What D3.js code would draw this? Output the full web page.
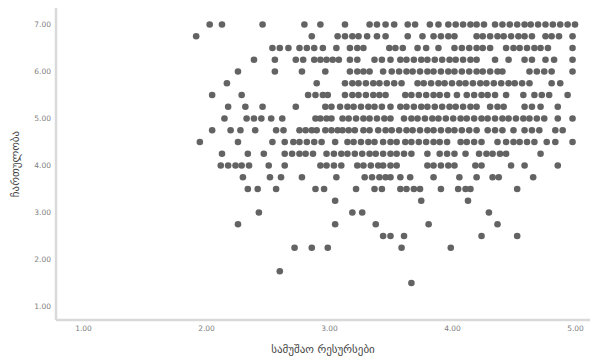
<!DOCTYPE html>
<html>
<head>
<meta charset="utf-8">
<script src="https://cdn.jsdelivr.net/npm/d3@7"></script>
<style>
  body { margin: 0; background: #fff; }
  svg { display: block; font-family: "DejaVu Sans", sans-serif; }
</style>
</head>
<body>
<div id="chart"></div>
<script>
const row700 = [2.03, 2.13, 2.46, 2.80, 2.93, 3.13, 3.33, 3.39, 3.46, 3.53, 3.64, 3.70, 3.82, 3.89, 3.97, 4.03, 4.09, 4.15, 4.20, 4.26, 4.35, 4.41, 4.47, 4.53, 4.59, 4.64, 4.70, 4.76, 4.82, 4.88, 4.94, 5.00];
const row675 = [1.92, 2.86, 3.07, 3.13, 3.19, 3.24, 3.31, 3.39, 3.46, 3.64, 3.76, 3.85, 3.91, 3.97, 4.02, 4.20, 4.25, 4.31, 4.37, 4.42, 4.48, 4.54, 4.59, 4.65, 4.76, 4.81, 4.87, 4.98];
const row650 = [2.54, 2.60, 2.67, 2.76, 2.82, 2.88, 2.95, 3.06, 3.17, 3.23, 3.28, 3.49, 3.54, 3.60, 3.72, 3.79, 3.89, 4.02, 4.08, 4.14, 4.20, 4.25, 4.31, 4.44, 4.50, 4.55, 4.61, 4.67, 4.72, 4.78, 4.98];
const row625 = [2.39, 2.56, 2.73, 2.79, 2.88, 2.93, 2.98, 3.03, 3.08, 3.17, 3.23, 3.37, 3.43, 3.50, 3.58, 3.63, 3.69, 3.75, 3.80, 3.86, 3.92, 3.98, 4.03, 4.09, 4.15, 4.20, 4.35, 4.46, 4.59, 4.65, 4.76, 4.83, 4.98];
const row600 = [2.26, 2.56, 2.78, 2.97, 3.17, 3.23, 3.28, 3.33, 3.44, 3.51, 3.57, 3.63, 3.68, 3.74, 3.80, 3.85, 3.91, 3.97, 4.02, 4.08, 4.14, 4.20, 4.25, 4.31, 4.37, 4.41, 4.63, 4.69, 4.75, 4.81, 4.98];
const row575 = [2.17, 2.90, 3.13, 3.19, 3.24, 3.30, 3.36, 3.41, 3.47, 3.53, 3.59, 3.72, 3.77, 3.83, 3.89, 3.94, 4.00, 4.06, 4.11, 4.17, 4.23, 4.28, 4.34, 4.40, 4.46, 4.51, 4.57, 4.63, 4.81, 4.88];
const row550 = [2.05, 2.29, 2.83, 2.89, 2.95, 2.99, 3.13, 3.19, 3.24, 3.30, 3.36, 3.41, 3.46, 3.62, 3.67, 3.73, 3.79, 3.85, 3.90, 3.96, 4.04, 4.12, 4.18, 4.24, 4.29, 4.35, 4.44, 4.58, 4.67, 4.73, 4.79, 4.94];
const row525 = [2.18, 2.32, 2.46, 2.73, 2.97, 3.02, 3.09, 3.15, 3.20, 3.26, 3.32, 3.37, 3.43, 3.50, 3.58, 3.63, 3.69, 3.75, 3.80, 3.86, 3.92, 3.98, 4.03, 4.09, 4.15, 4.20, 4.31, 4.37, 4.42, 4.59, 4.65, 4.72, 4.86];
const row500 = [2.15, 2.33, 2.39, 2.45, 2.53, 2.62, 2.89, 2.93, 2.98, 3.02, 3.11, 3.16, 3.22, 3.28, 3.33, 3.39, 3.45, 3.50, 3.61, 3.67, 3.72, 3.78, 3.84, 3.89, 3.95, 4.01, 4.07, 4.12, 4.18, 4.24, 4.29, 4.35, 4.41, 4.46, 4.52, 4.58, 4.63, 4.69, 4.75, 4.86, 4.98];
const row475 = [2.05, 2.20, 2.28, 2.40, 2.57, 2.63, 2.76, 2.81, 2.86, 2.90, 2.97, 3.02, 3.07, 3.11, 3.16, 3.21, 3.28, 3.33, 3.40, 3.46, 3.51, 3.57, 3.63, 3.68, 3.74, 3.80, 3.85, 3.91, 3.97, 4.02, 4.08, 4.14, 4.20, 4.29, 4.35, 4.41, 4.50, 4.59, 4.65, 4.71, 4.84, 4.90];
const row450 = [1.95, 2.26, 2.54, 2.64, 2.71, 2.76, 2.82, 2.88, 2.94, 3.05, 3.15, 3.20, 3.26, 3.32, 3.37, 3.44, 3.50, 3.55, 3.62, 3.67, 3.73, 3.79, 3.85, 3.90, 3.96, 4.07, 4.12, 4.18, 4.24, 4.37, 4.44, 4.50, 4.55, 4.61, 4.67, 4.77, 4.84, 4.98];
const row425 = [2.13, 2.34, 2.47, 2.64, 2.70, 2.76, 2.81, 2.87, 2.98, 3.04, 3.10, 3.15, 3.21, 3.27, 3.33, 3.38, 3.44, 3.50, 3.55, 3.61, 3.67, 3.80, 3.90, 3.96, 4.02, 4.11, 4.22, 4.28, 4.33, 4.39, 4.44, 4.72];
const row400 = [2.12, 2.18, 2.24, 2.29, 2.35, 2.51, 2.64, 2.93, 2.98, 3.04, 3.10, 3.23, 3.28, 3.34, 3.40, 3.44, 3.50, 3.55, 3.80, 3.85, 3.91, 3.97, 4.02, 4.19, 4.24, 4.48, 4.59, 4.86];
const row375 = [2.30, 2.52, 2.61, 2.78, 3.06, 3.29, 3.35, 3.41, 3.46, 3.50, 3.58, 3.66, 3.85, 4.06, 4.20, 4.33, 4.38, 4.66];
const row350 = [2.34, 2.42, 2.57, 2.89, 2.96, 3.22, 3.37, 3.43, 3.58, 3.63, 3.69, 3.74, 3.91, 4.05, 4.11, 4.15, 4.53];
const row325 = [3.05, 3.75, 4.13];
const row300 = [2.43, 3.19, 3.27, 4.30];
const row275 = [2.26, 3.05, 3.38, 3.81, 4.37];
const row250 = [3.44, 3.50, 3.61, 4.24, 4.53];
const row225 = [2.72, 2.86, 2.99, 3.59, 3.99];
const row175 = [2.60];
const row150 = [3.67];

const rows = [
  [7.00, row700], [6.75, row675], [6.50, row650], [6.25, row625], [6.00, row600],
  [5.75, row575], [5.50, row550], [5.25, row525], [5.00, row500], [4.75, row475],
  [4.50, row450], [4.25, row425], [4.00, row400], [3.75, row375], [3.50, row350],
  [3.25, row325], [3.00, row300], [2.75, row275], [2.50, row250], [2.25, row225],
  [1.75, row175], [1.50, row150]
];

const xTicks = [1, 2, 3, 4, 5];
const yTicks = [1, 2, 3, 4, 5, 6, 7];
const xTitle = "სამუშაო რესურსები";
const yTitle = "ჩართულობა";

const width = 590, height = 360;
const plotLeft = 56, plotBottom = 320, plotTop = 8;

const points = rows.flatMap(([yv, xs]) => xs.map(xv => ({ x: xv, y: yv })));

const x = d3.scaleLinear().domain([1, 5]).range([83, 575]);
const y = d3.scaleLinear().domain([1, 7]).range([306.5, 24.5]);

const svg = d3.select("#chart")
  .append("svg")
  .attr("width", width)
  .attr("height", height);

// frame lines
svg.append("line")
  .attr("x1", plotLeft).attr("x2", plotLeft)
  .attr("y1", plotTop).attr("y2", plotBottom)
  .attr("stroke", "#d9d9d9").attr("stroke-width", 2.5);

svg.append("line")
  .attr("x1", plotLeft).attr("x2", width)
  .attr("y1", plotBottom).attr("y2", plotBottom)
  .attr("stroke", "#d9d9d9").attr("stroke-width", 2.5);

const yAxis = svg.append("g")
  .attr("transform", `translate(${plotLeft - 3},0)`)
  .call(d3.axisLeft(y).tickValues(yTicks).tickSize(0).tickPadding(2).tickFormat(d3.format(".2f")));
yAxis.select(".domain").remove();

const xAxis = svg.append("g")
  .attr("transform", `translate(0,${plotBottom + 4})`)
  .call(d3.axisBottom(x).tickValues(xTicks).tickSize(0).tickPadding(2).tickFormat(d3.format(".2f")));
xAxis.select(".domain").remove();

svg.selectAll(".tick text")
  .attr("fill", "#808080")
  .style("font-size", "7.5px")
  .style("font-family", "'DejaVu Sans', sans-serif");

svg.append("g")
  .selectAll("circle")
  .data(points)
  .join("circle")
  .attr("cx", d => x(d.x))
  .attr("cy", d => y(d.y))
  .attr("r", 3.3)
  .attr("fill", "#636363");

svg.append("text")
  .attr("x", (plotLeft + width) / 2)
  .attr("y", 353)
  .attr("text-anchor", "middle")
  .attr("fill", "#444")
  .style("font-size", "11px")
  .text(xTitle);

svg.append("text")
  .attr("transform", `translate(19,${(plotTop + plotBottom) / 2}) rotate(-90)`)
  .attr("text-anchor", "middle")
  .attr("fill", "#444")
  .style("font-size", "11px")
  .text(yTitle);
</script>
</body>
</html>
